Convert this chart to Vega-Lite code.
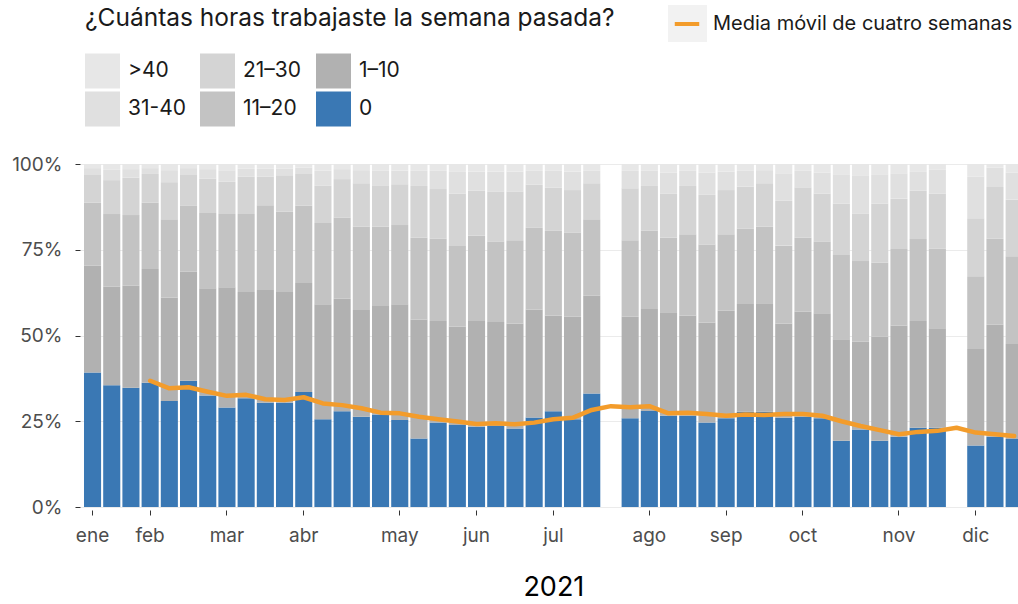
{
"$schema": "https://vega.github.io/schema/vega-lite/v6.json",
"autosize": {"type": "none"},
"padding": {"left": 80, "top": 164, "right": 0, "bottom": 97},
"width": 938,
"height": 343,
"config": {"view": {"stroke": null}, "font": "Inter"},
"datasets": {
"barras": [
{"semana":"2021-01-15","horas":"0","pct":39.2},{"semana":"2021-01-15","horas":"1–10","pct":31.1},{"semana":"2021-01-15","horas":"11–20","pct":18.4},{"semana":"2021-01-15","horas":"21–30","pct":8.1},{"semana":"2021-01-15","horas":"31-40","pct":2.0},{"semana":"2021-01-15","horas":">40","pct":1.2},
{"semana":"2021-01-22","horas":"0","pct":35.5},{"semana":"2021-01-22","horas":"1–10","pct":28.7},{"semana":"2021-01-22","horas":"11–20","pct":21.2},{"semana":"2021-01-22","horas":"21–30","pct":9.9},{"semana":"2021-01-22","horas":"31-40","pct":3.0},{"semana":"2021-01-22","horas":">40","pct":1.7},
{"semana":"2021-01-29","horas":"0","pct":34.8},{"semana":"2021-01-29","horas":"1–10","pct":29.7},{"semana":"2021-01-29","horas":"11–20","pct":20.6},{"semana":"2021-01-29","horas":"21–30","pct":10.9},{"semana":"2021-01-29","horas":"31-40","pct":2.5},{"semana":"2021-01-29","horas":">40","pct":1.5},
{"semana":"2021-02-05","horas":"0","pct":36.2},{"semana":"2021-02-05","horas":"1–10","pct":33.2},{"semana":"2021-02-05","horas":"11–20","pct":19.3},{"semana":"2021-02-05","horas":"21–30","pct":8.4},{"semana":"2021-02-05","horas":"31-40","pct":1.7},{"semana":"2021-02-05","horas":">40","pct":1.2},
{"semana":"2021-02-12","horas":"0","pct":30.9},{"semana":"2021-02-12","horas":"1–10","pct":30.2},{"semana":"2021-02-12","horas":"11–20","pct":22.8},{"semana":"2021-02-12","horas":"21–30","pct":10.8},{"semana":"2021-02-12","horas":"31-40","pct":3.5},{"semana":"2021-02-12","horas":">40","pct":1.8},
{"semana":"2021-02-19","horas":"0","pct":36.8},{"semana":"2021-02-19","horas":"1–10","pct":31.8},{"semana":"2021-02-19","horas":"11–20","pct":19.2},{"semana":"2021-02-19","horas":"21–30","pct":9.0},{"semana":"2021-02-19","horas":"31-40","pct":2.0},{"semana":"2021-02-19","horas":">40","pct":1.2},
{"semana":"2021-02-26","horas":"0","pct":32.5},{"semana":"2021-02-26","horas":"1–10","pct":31.3},{"semana":"2021-02-26","horas":"11–20","pct":21.9},{"semana":"2021-02-26","horas":"21–30","pct":10.0},{"semana":"2021-02-26","horas":"31-40","pct":2.8},{"semana":"2021-02-26","horas":">40","pct":1.5},
{"semana":"2021-03-05","horas":"0","pct":29.0},{"semana":"2021-03-05","horas":"1–10","pct":35.1},{"semana":"2021-03-05","horas":"11–20","pct":21.3},{"semana":"2021-03-05","horas":"21–30","pct":9.4},{"semana":"2021-03-05","horas":"31-40","pct":3.4},{"semana":"2021-03-05","horas":">40","pct":1.8},
{"semana":"2021-03-12","horas":"0","pct":31.7},{"semana":"2021-03-12","horas":"1–10","pct":31.0},{"semana":"2021-03-12","horas":"11–20","pct":22.7},{"semana":"2021-03-12","horas":"21–30","pct":10.9},{"semana":"2021-03-12","horas":"31-40","pct":2.3},{"semana":"2021-03-12","horas":">40","pct":1.4},
{"semana":"2021-03-19","horas":"0","pct":30.4},{"semana":"2021-03-19","horas":"1–10","pct":32.9},{"semana":"2021-03-19","horas":"11–20","pct":24.7},{"semana":"2021-03-19","horas":"21–30","pct":8.3},{"semana":"2021-03-19","horas":"31-40","pct":2.3},{"semana":"2021-03-19","horas":">40","pct":1.4},
{"semana":"2021-03-26","horas":"0","pct":30.4},{"semana":"2021-03-26","horas":"1–10","pct":32.3},{"semana":"2021-03-26","horas":"11–20","pct":23.4},{"semana":"2021-03-26","horas":"21–30","pct":10.6},{"semana":"2021-03-26","horas":"31-40","pct":2.0},{"semana":"2021-03-26","horas":">40","pct":1.3},
{"semana":"2021-04-02","horas":"0","pct":33.5},{"semana":"2021-04-02","horas":"1–10","pct":31.8},{"semana":"2021-04-02","horas":"11–20","pct":22.5},{"semana":"2021-04-02","horas":"21–30","pct":9.3},{"semana":"2021-04-02","horas":"31-40","pct":1.8},{"semana":"2021-04-02","horas":">40","pct":1.1},
{"semana":"2021-04-09","horas":"0","pct":25.6},{"semana":"2021-04-09","horas":"1–10","pct":33.5},{"semana":"2021-04-09","horas":"11–20","pct":23.7},{"semana":"2021-04-09","horas":"21–30","pct":10.9},{"semana":"2021-04-09","horas":"31-40","pct":4.3},{"semana":"2021-04-09","horas":">40","pct":2.0},
{"semana":"2021-04-16","horas":"0","pct":27.9},{"semana":"2021-04-16","horas":"1–10","pct":32.8},{"semana":"2021-04-16","horas":"11–20","pct":23.7},{"semana":"2021-04-16","horas":"21–30","pct":11.2},{"semana":"2021-04-16","horas":"31-40","pct":2.9},{"semana":"2021-04-16","horas":">40","pct":1.5},
{"semana":"2021-04-23","horas":"0","pct":26.3},{"semana":"2021-04-23","horas":"1–10","pct":31.1},{"semana":"2021-04-23","horas":"11–20","pct":24.3},{"semana":"2021-04-23","horas":"21–30","pct":12.7},{"semana":"2021-04-23","horas":"31-40","pct":3.8},{"semana":"2021-04-23","horas":">40","pct":1.8},
{"semana":"2021-04-30","horas":"0","pct":27.0},{"semana":"2021-04-30","horas":"1–10","pct":31.6},{"semana":"2021-04-30","horas":"11–20","pct":23.1},{"semana":"2021-04-30","horas":"21–30","pct":11.9},{"semana":"2021-04-30","horas":"31-40","pct":4.4},{"semana":"2021-04-30","horas":">40","pct":2.0},
{"semana":"2021-05-07","horas":"0","pct":25.4},{"semana":"2021-05-07","horas":"1–10","pct":33.7},{"semana":"2021-05-07","horas":"11–20","pct":23.1},{"semana":"2021-05-07","horas":"21–30","pct":11.9},{"semana":"2021-05-07","horas":"31-40","pct":4.0},{"semana":"2021-05-07","horas":">40","pct":1.9},
{"semana":"2021-05-14","horas":"0","pct":20.0},{"semana":"2021-05-14","horas":"1–10","pct":34.7},{"semana":"2021-05-14","horas":"11–20","pct":23.8},{"semana":"2021-05-14","horas":"21–30","pct":15.1},{"semana":"2021-05-14","horas":"31-40","pct":4.4},{"semana":"2021-05-14","horas":">40","pct":2.0},
{"semana":"2021-05-21","horas":"0","pct":24.6},{"semana":"2021-05-21","horas":"1–10","pct":29.6},{"semana":"2021-05-21","horas":"11–20","pct":24.0},{"semana":"2021-05-21","horas":"21–30","pct":14.5},{"semana":"2021-05-21","horas":"31-40","pct":5.3},{"semana":"2021-05-21","horas":">40","pct":2.0},
{"semana":"2021-05-28","horas":"0","pct":23.9},{"semana":"2021-05-28","horas":"1–10","pct":28.7},{"semana":"2021-05-28","horas":"11–20","pct":23.5},{"semana":"2021-05-28","horas":"21–30","pct":15.3},{"semana":"2021-05-28","horas":"31-40","pct":6.3},{"semana":"2021-05-28","horas":">40","pct":2.3},
{"semana":"2021-06-04","horas":"0","pct":23.4},{"semana":"2021-06-04","horas":"1–10","pct":30.8},{"semana":"2021-06-04","horas":"11–20","pct":24.9},{"semana":"2021-06-04","horas":"21–30","pct":13.1},{"semana":"2021-06-04","horas":"31-40","pct":5.6},{"semana":"2021-06-04","horas":">40","pct":2.2},
{"semana":"2021-06-11","horas":"0","pct":23.6},{"semana":"2021-06-11","horas":"1–10","pct":30.3},{"semana":"2021-06-11","horas":"11–20","pct":23.4},{"semana":"2021-06-11","horas":"21–30","pct":14.7},{"semana":"2021-06-11","horas":"31-40","pct":5.8},{"semana":"2021-06-11","horas":">40","pct":2.2},
{"semana":"2021-06-18","horas":"0","pct":22.9},{"semana":"2021-06-18","horas":"1–10","pct":30.6},{"semana":"2021-06-18","horas":"11–20","pct":24.3},{"semana":"2021-06-18","horas":"21–30","pct":14.2},{"semana":"2021-06-18","horas":"31-40","pct":5.8},{"semana":"2021-06-18","horas":">40","pct":2.2},
{"semana":"2021-06-25","horas":"0","pct":26.1},{"semana":"2021-06-25","horas":"1–10","pct":31.5},{"semana":"2021-06-25","horas":"11–20","pct":23.8},{"semana":"2021-06-25","horas":"21–30","pct":12.6},{"semana":"2021-06-25","horas":"31-40","pct":4.0},{"semana":"2021-06-25","horas":">40","pct":2.0},
{"semana":"2021-07-02","horas":"0","pct":27.9},{"semana":"2021-07-02","horas":"1–10","pct":27.9},{"semana":"2021-07-02","horas":"11–20","pct":24.7},{"semana":"2021-07-02","horas":"21–30","pct":12.6},{"semana":"2021-07-02","horas":"31-40","pct":4.9},{"semana":"2021-07-02","horas":">40","pct":2.0},
{"semana":"2021-07-09","horas":"0","pct":25.6},{"semana":"2021-07-09","horas":"1–10","pct":29.9},{"semana":"2021-07-09","horas":"11–20","pct":24.5},{"semana":"2021-07-09","horas":"21–30","pct":12.4},{"semana":"2021-07-09","horas":"31-40","pct":5.4},{"semana":"2021-07-09","horas":">40","pct":2.2},
{"semana":"2021-07-16","horas":"0","pct":33.1},{"semana":"2021-07-16","horas":"1–10","pct":28.5},{"semana":"2021-07-16","horas":"11–20","pct":22.3},{"semana":"2021-07-16","horas":"21–30","pct":10.5},{"semana":"2021-07-16","horas":"31-40","pct":3.6},{"semana":"2021-07-16","horas":">40","pct":2.0},
{"semana":"2021-07-30","horas":"0","pct":25.9},{"semana":"2021-07-30","horas":"1–10","pct":29.6},{"semana":"2021-07-30","horas":"11–20","pct":22.3},{"semana":"2021-07-30","horas":"21–30","pct":15.1},{"semana":"2021-07-30","horas":"31-40","pct":5.1},{"semana":"2021-07-30","horas":">40","pct":2.0},
{"semana":"2021-08-06","horas":"0","pct":28.0},{"semana":"2021-08-06","horas":"1–10","pct":29.7},{"semana":"2021-08-06","horas":"11–20","pct":22.9},{"semana":"2021-08-06","horas":"21–30","pct":13.0},{"semana":"2021-08-06","horas":"31-40","pct":4.4},{"semana":"2021-08-06","horas":">40","pct":2.0},
{"semana":"2021-08-13","horas":"0","pct":26.6},{"semana":"2021-08-13","horas":"1–10","pct":30.2},{"semana":"2021-08-13","horas":"11–20","pct":21.8},{"semana":"2021-08-13","horas":"21–30","pct":12.7},{"semana":"2021-08-13","horas":"31-40","pct":6.2},{"semana":"2021-08-13","horas":">40","pct":2.5},
{"semana":"2021-08-20","horas":"0","pct":26.6},{"semana":"2021-08-20","horas":"1–10","pct":29.2},{"semana":"2021-08-20","horas":"11–20","pct":23.7},{"semana":"2021-08-20","horas":"21–30","pct":14.1},{"semana":"2021-08-20","horas":"31-40","pct":4.4},{"semana":"2021-08-20","horas":">40","pct":2.0},
{"semana":"2021-08-27","horas":"0","pct":24.6},{"semana":"2021-08-27","horas":"1–10","pct":29.2},{"semana":"2021-08-27","horas":"11–20","pct":22.7},{"semana":"2021-08-27","horas":"21–30","pct":14.5},{"semana":"2021-08-27","horas":"31-40","pct":6.5},{"semana":"2021-08-27","horas":">40","pct":2.5},
{"semana":"2021-09-03","horas":"0","pct":25.9},{"semana":"2021-09-03","horas":"1–10","pct":31.3},{"semana":"2021-09-03","horas":"11–20","pct":22.3},{"semana":"2021-09-03","horas":"21–30","pct":12.9},{"semana":"2021-09-03","horas":"31-40","pct":5.4},{"semana":"2021-09-03","horas":">40","pct":2.2},
{"semana":"2021-09-10","horas":"0","pct":27.8},{"semana":"2021-09-10","horas":"1–10","pct":31.4},{"semana":"2021-09-10","horas":"11–20","pct":22.0},{"semana":"2021-09-10","horas":"21–30","pct":12.2},{"semana":"2021-09-10","horas":"31-40","pct":4.6},{"semana":"2021-09-10","horas":">40","pct":2.0},
{"semana":"2021-09-17","horas":"0","pct":27.8},{"semana":"2021-09-17","horas":"1–10","pct":31.6},{"semana":"2021-09-17","horas":"11–20","pct":22.3},{"semana":"2021-09-17","horas":"21–30","pct":12.7},{"semana":"2021-09-17","horas":"31-40","pct":3.8},{"semana":"2021-09-17","horas":">40","pct":1.8},
{"semana":"2021-09-24","horas":"0","pct":26.0},{"semana":"2021-09-24","horas":"1–10","pct":27.5},{"semana":"2021-09-24","horas":"11–20","pct":22.7},{"semana":"2021-09-24","horas":"21–30","pct":13.1},{"semana":"2021-09-24","horas":"31-40","pct":8.0},{"semana":"2021-09-24","horas":">40","pct":2.7},
{"semana":"2021-10-01","horas":"0","pct":26.3},{"semana":"2021-10-01","horas":"1–10","pct":30.6},{"semana":"2021-10-01","horas":"11–20","pct":21.6},{"semana":"2021-10-01","horas":"21–30","pct":14.7},{"semana":"2021-10-01","horas":"31-40","pct":4.8},{"semana":"2021-10-01","horas":">40","pct":2.0},
{"semana":"2021-10-08","horas":"0","pct":25.9},{"semana":"2021-10-08","horas":"1–10","pct":30.6},{"semana":"2021-10-08","horas":"11–20","pct":20.8},{"semana":"2021-10-08","horas":"21–30","pct":14.1},{"semana":"2021-10-08","horas":"31-40","pct":6.1},{"semana":"2021-10-08","horas":">40","pct":2.5},
{"semana":"2021-10-15","horas":"0","pct":19.3},{"semana":"2021-10-15","horas":"1–10","pct":29.6},{"semana":"2021-10-15","horas":"11–20","pct":24.6},{"semana":"2021-10-15","horas":"21–30","pct":15.0},{"semana":"2021-10-15","horas":"31-40","pct":8.5},{"semana":"2021-10-15","horas":">40","pct":3.0},
{"semana":"2021-10-22","horas":"0","pct":22.6},{"semana":"2021-10-22","horas":"1–10","pct":25.6},{"semana":"2021-10-22","horas":"11–20","pct":23.5},{"semana":"2021-10-22","horas":"21–30","pct":13.9},{"semana":"2021-10-22","horas":"31-40","pct":11.1},{"semana":"2021-10-22","horas":">40","pct":3.3},
{"semana":"2021-10-29","horas":"0","pct":19.3},{"semana":"2021-10-29","horas":"1–10","pct":30.4},{"semana":"2021-10-29","horas":"11–20","pct":21.5},{"semana":"2021-10-29","horas":"21–30","pct":17.3},{"semana":"2021-10-29","horas":"31-40","pct":8.5},{"semana":"2021-10-29","horas":">40","pct":3.0},
{"semana":"2021-11-05","horas":"0","pct":20.5},{"semana":"2021-11-05","horas":"1–10","pct":32.4},{"semana":"2021-11-05","horas":"11–20","pct":22.3},{"semana":"2021-11-05","horas":"21–30","pct":14.7},{"semana":"2021-11-05","horas":"31-40","pct":7.4},{"semana":"2021-11-05","horas":">40","pct":2.7},
{"semana":"2021-11-12","horas":"0","pct":23.1},{"semana":"2021-11-12","horas":"1–10","pct":31.1},{"semana":"2021-11-12","horas":"11–20","pct":23.9},{"semana":"2021-11-12","horas":"21–30","pct":14.1},{"semana":"2021-11-12","horas":"31-40","pct":5.5},{"semana":"2021-11-12","horas":">40","pct":2.3},
{"semana":"2021-11-19","horas":"0","pct":23.1},{"semana":"2021-11-19","horas":"1–10","pct":29.0},{"semana":"2021-11-19","horas":"11–20","pct":23.3},{"semana":"2021-11-19","horas":"21–30","pct":16.0},{"semana":"2021-11-19","horas":"31-40","pct":6.9},{"semana":"2021-11-19","horas":">40","pct":1.7},
{"semana":"2021-12-03","horas":"0","pct":17.9},{"semana":"2021-12-03","horas":"1–10","pct":28.2},{"semana":"2021-12-03","horas":"11–20","pct":21.2},{"semana":"2021-12-03","horas":"21–30","pct":16.9},{"semana":"2021-12-03","horas":"31-40","pct":12.1},{"semana":"2021-12-03","horas":">40","pct":3.7},
{"semana":"2021-12-10","horas":"0","pct":20.5},{"semana":"2021-12-10","horas":"1–10","pct":32.6},{"semana":"2021-12-10","horas":"11–20","pct":25.1},{"semana":"2021-12-10","horas":"21–30","pct":15.1},{"semana":"2021-12-10","horas":"31-40","pct":5.6},{"semana":"2021-12-10","horas":">40","pct":1.1},
{"semana":"2021-12-17","horas":"0","pct":19.8},{"semana":"2021-12-17","horas":"1–10","pct":27.7},{"semana":"2021-12-17","horas":"11–20","pct":25.6},{"semana":"2021-12-17","horas":"21–30","pct":16.5},{"semana":"2021-12-17","horas":"31-40","pct":7.9},{"semana":"2021-12-17","horas":">40","pct":2.5}
],
"media": [
{"semana":"2021-02-05","valor":36.8},{"semana":"2021-02-12","valor":34.6},{"semana":"2021-02-19","valor":34.9},{"semana":"2021-02-26","valor":33.6},
{"semana":"2021-03-05","valor":32.4},{"semana":"2021-03-12","valor":32.7},{"semana":"2021-03-19","valor":31.4},{"semana":"2021-03-26","valor":31.2},
{"semana":"2021-04-02","valor":32.0},{"semana":"2021-04-09","valor":30.2},{"semana":"2021-04-16","valor":29.7},{"semana":"2021-04-23","valor":28.8},{"semana":"2021-04-30","valor":27.5},
{"semana":"2021-05-07","valor":27.3},{"semana":"2021-05-14","valor":26.3},{"semana":"2021-05-21","valor":25.6},{"semana":"2021-05-28","valor":24.9},
{"semana":"2021-06-04","valor":24.2},{"semana":"2021-06-11","valor":24.4},{"semana":"2021-06-18","valor":24.1},{"semana":"2021-06-25","valor":24.6},
{"semana":"2021-07-02","valor":25.6},{"semana":"2021-07-09","valor":26.0},{"semana":"2021-07-16","valor":28.3},{"semana":"2021-07-23","valor":29.4},{"semana":"2021-07-30","valor":29.1},
{"semana":"2021-08-06","valor":29.4},{"semana":"2021-08-13","valor":27.3},{"semana":"2021-08-20","valor":27.5},{"semana":"2021-08-27","valor":27.1},
{"semana":"2021-09-03","valor":26.6},{"semana":"2021-09-10","valor":27.0},{"semana":"2021-09-17","valor":26.8},{"semana":"2021-09-24","valor":27.1},
{"semana":"2021-10-01","valor":27.1},{"semana":"2021-10-08","valor":26.6},{"semana":"2021-10-15","valor":25.0},{"semana":"2021-10-22","valor":23.6},{"semana":"2021-10-29","valor":22.4},
{"semana":"2021-11-05","valor":21.2},{"semana":"2021-11-12","valor":21.9},{"semana":"2021-11-19","valor":22.2},{"semana":"2021-11-26","valor":23.1},
{"semana":"2021-12-03","valor":21.7},{"semana":"2021-12-10","valor":21.2},{"semana":"2021-12-17","valor":20.7}
]
},
"encoding": {
"x": {
"field": "semana", "type": "ordinal",
"scale": {
"type": "band",
"domain": ["2021-01-15","2021-01-22","2021-01-29","2021-02-05","2021-02-12","2021-02-19","2021-02-26","2021-03-05","2021-03-12","2021-03-19","2021-03-26","2021-04-02","2021-04-09","2021-04-16","2021-04-23","2021-04-30","2021-05-07","2021-05-14","2021-05-21","2021-05-28","2021-06-04","2021-06-11","2021-06-18","2021-06-25","2021-07-02","2021-07-09","2021-07-16","2021-07-23","2021-07-30","2021-08-06","2021-08-13","2021-08-20","2021-08-27","2021-09-03","2021-09-10","2021-09-17","2021-09-24","2021-10-01","2021-10-08","2021-10-15","2021-10-22","2021-10-29","2021-11-05","2021-11-12","2021-11-19","2021-11-26","2021-12-03","2021-12-10","2021-12-17"],
"range": [0, 946.7],
"paddingInner": 0.11,
"paddingOuter": 0.208
},
"axis": {
"values": ["2021-01-15","2021-02-05","2021-03-05","2021-04-02","2021-05-07","2021-06-04","2021-07-02","2021-08-06","2021-09-03","2021-10-01","2021-11-05","2021-12-03"],
"labelExpr": "['ene','feb','mar','abr','may','jun','jul','ago','sep','oct','nov','dic'][utcmonth(toDate(datum.value))]",
"labelAngle": 0, "domain": false, "ticks": true, "tickSize": 5, "tickColor": "#333333", "offset": 3,
"labelFontSize": 19, "labelColor": "#4d4d4d", "labelPadding": 11,
"title": "2021", "titleFontSize": 27, "titleFontWeight": "normal", "titleColor": "#000000", "titlePadding": 29, "grid": false
}
}
},
"layer": [
{
"data": {"name": "barras"},
"transform": [
{"calculate": "indexof(['0','1–10','11–20','21–30','31-40','>40'], datum.horas)", "as": "orden"}
],
"mark": {"type": "bar", "clip": true},
"encoding": {
"y": {
"field": "pct", "type": "quantitative", "stack": "zero",
"scale": {"domain": [0, 100], "nice": false},
"axis": {"values": [0, 25, 50, 75, 100], "labelExpr": "datum.value + '%'", "grid": true, "gridColor": "#ebebeb", "gridWidth": 1.2, "domain": false, "ticks": true, "tickSize": 5, "tickColor": "#333333", "labelFontSize": 19, "labelColor": "#4d4d4d", "labelPadding": 13, "title": null}
},
"order": {"field": "orden", "type": "quantitative", "sort": "ascending"},
"color": {
"field": "horas", "type": "nominal",
"scale": {"domain": ["0","1–10","11–20","21–30","31-40",">40"], "range": ["#3a78b4","#b1b1b1","#c3c3c3","#d4d4d4","#e0e0e0","#e7e7e7"]},
"legend": {
"orient": "none", "legendX": 5, "legendY": -157, "padding": 0,
"title": "¿Cuántas horas trabajaste la semana pasada?", "titleLimit": 0, "titleFontSize": 24.5, "titleFontWeight": "normal", "titleColor": "#1a1a1a", "titlePadding": 22,
"columns": 3, "values": [">40","31-40","21–30","11–20","1–10","0"],
"symbolType": "square", "symbolSize": 1225, "symbolStrokeWidth": 0, "symbolOpacity": 1,
"labelFontSize": 21, "labelColor": "#1a1a1a", "labelOffset": 8, "rowPadding": 3, "columnPadding": 14
}
}
}
},
{
"data": {"name": "media"},
"mark": {"type": "line", "clip": true, "strokeCap": "round", "strokeJoin": "round"},
"encoding": {
"y": {"field": "valor", "type": "quantitative"},
"stroke": {
"datum": "Media móvil de cuatro semanas",
"scale": {"range": ["#f39c2b"]},
"legend": {
"orient": "none", "legendX": 588, "legendY": -159, "padding": 0, "title": null, "zindex": 2,
"symbolType": "M-0.72,0H0.72", "symbolSize": 1156, "symbolStrokeWidth": 4,
"labelFontSize": 20, "labelColor": "#1a1a1a", "labelOffset": 7, "labelLimit": 0
}
},
"strokeWidth": {
"datum": "fondo",
"scale": {"range": [4.5, 4.5]},
"legend": {
"orient": "none", "legendX": 588, "legendY": -159, "padding": 0, "title": null, "zindex": 1,
"fillColor": "#f2f2f2", "symbolType": "square", "symbolSize": 1156, "symbolOpacity": 0, "symbolStrokeWidth": 0,
"labelExpr": "''", "labelOffset": 0, "labelFontSize": 1
}
}
}
}
]
}
